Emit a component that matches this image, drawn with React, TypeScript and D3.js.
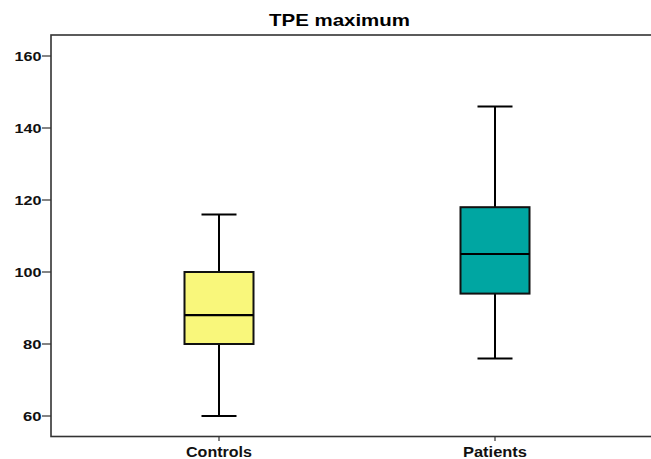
import React from "react";
import * as d3 from "d3";

const categories = ["Controls", "Patients"];
const whiskerLow = [60, 76];
const q1 = [80, 94];
const median = [88, 105];
const q3 = [100, 118];
const whiskerHigh = [116, 146];
const fills = ["#F9F77B", "#00A6A2"];
const yTicks = [60, 80, 100, 120, 140, 160];
const title = "TPE maximum";

const W = 651;
const H = 459;
const frame = { left: 51, top: 35, bottom: 436.5, right: 660 };
const font = "'Liberation Sans', Arial, sans-serif";

export default function App() {
  const y = d3.scaleLinear().domain([60, 160]).range([416, 56]);
  const x = d3.scalePoint<string>().domain(categories).range([219, 495]);
  const boxW = 69;
  const capW = 35;

  return (
    <svg
      width={W}
      height={H}
      style={{ position: "absolute", left: 0, top: 0, background: "#fff" }}
    >
      <rect x={0} y={0} width={W} height={H} fill="#fff" />
      <text
        x={339.5}
        y={25.7}
        textAnchor="middle"
        fontFamily={font}
        fontWeight="bold"
        fontSize={17}
        textLength={141}
        lengthAdjust="spacingAndGlyphs"
        fill="#000"
      >
        {title}
      </text>
      <rect
        x={frame.left}
        y={frame.top}
        width={frame.right - frame.left}
        height={frame.bottom - frame.top}
        fill="none"
        stroke="#333"
        strokeWidth={1.6}
      />
      {yTicks.map((t) => (
        <g key={t}>
          <line x1={42} x2={frame.left} y1={y(t)} y2={y(t)} stroke="#333" strokeWidth={1.2} />
          <text
            x={41.5}
            y={y(t)}
            dy="0.36em"
            textAnchor="end"
            fontFamily={font}
            fontWeight="bold"
            fontSize={13}
            textLength={String(t).length === 3 ? 27 : 18.5}
            lengthAdjust="spacingAndGlyphs"
            fill="#111"
          >
            {t}
          </text>
        </g>
      ))}
      {categories.map((c, i) => {
        const cx = x(c)!;
        return (
          <g key={c}>
            <line x1={cx} x2={cx} y1={frame.bottom} y2={frame.bottom + 4.5} stroke="#333" strokeWidth={1.2} />
            <text
              x={cx}
              y={456.7}
              textAnchor="middle"
              fontFamily={font}
              fontWeight="bold"
              fontSize={14}
              textLength={c === "Controls" ? 66 : 64}
              lengthAdjust="spacingAndGlyphs"
              fill="#111"
            >
              {c}
            </text>
            <line x1={cx} x2={cx} y1={y(whiskerHigh[i])} y2={y(q3[i])} stroke="#000" strokeWidth={2} />
            <line x1={cx} x2={cx} y1={y(q1[i])} y2={y(whiskerLow[i])} stroke="#000" strokeWidth={2} />
            <line x1={cx - capW / 2} x2={cx + capW / 2} y1={y(whiskerHigh[i])} y2={y(whiskerHigh[i])} stroke="#000" strokeWidth={2} />
            <line x1={cx - capW / 2} x2={cx + capW / 2} y1={y(whiskerLow[i])} y2={y(whiskerLow[i])} stroke="#000" strokeWidth={2} />
            <rect
              x={cx - boxW / 2}
              y={y(q3[i])}
              width={boxW}
              height={y(q1[i]) - y(q3[i])}
              fill={fills[i]}
              stroke="#111"
              strokeWidth={2}
            />
            <line x1={cx - boxW / 2} x2={cx + boxW / 2} y1={y(median[i])} y2={y(median[i])} stroke="#000" strokeWidth={2.2} />
          </g>
        );
      })}
    </svg>
  );
}
